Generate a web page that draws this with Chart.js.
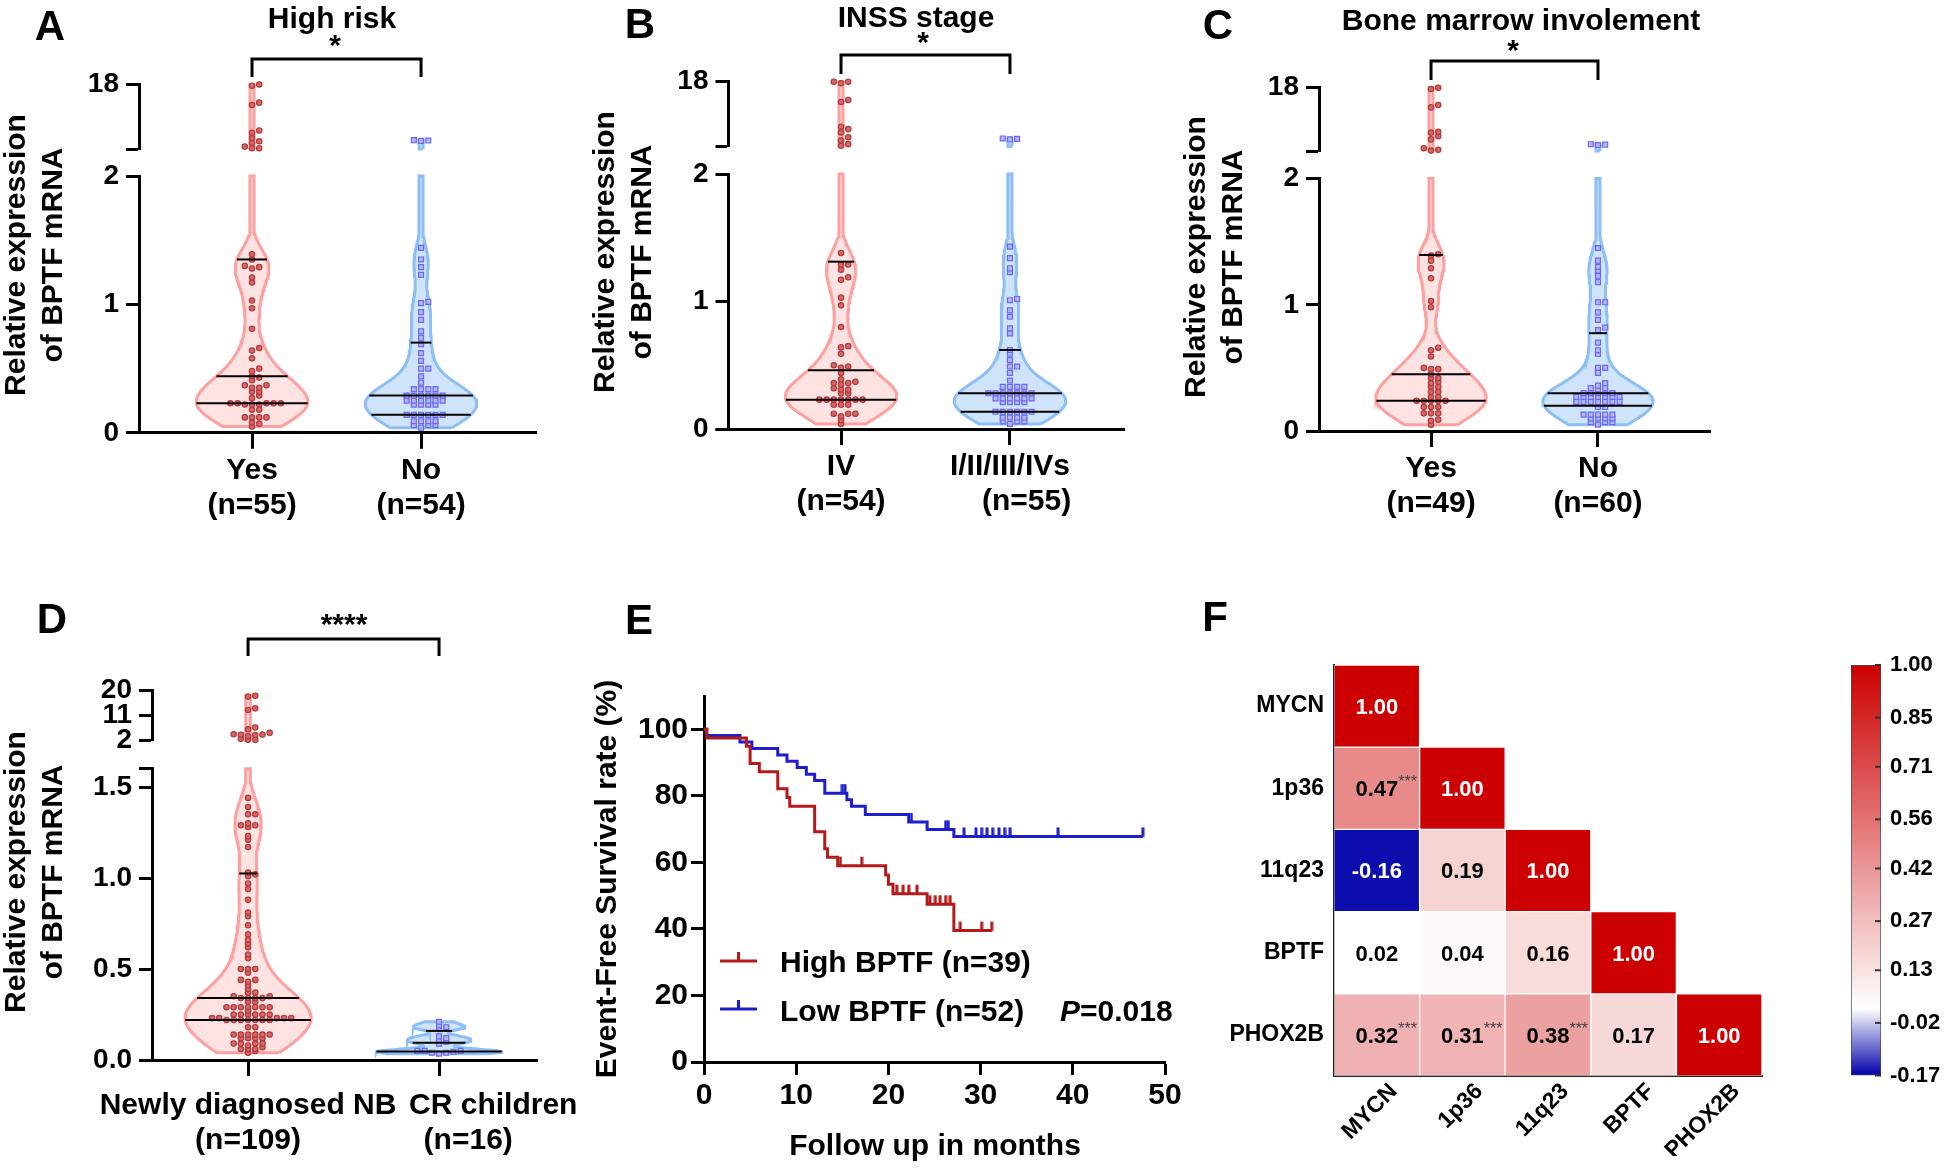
<!DOCTYPE html>
<html>
<head>
<meta charset="utf-8">
<script src="https://cdn.jsdelivr.net/npm/chart.js@4.4.0/dist/chart.umd.min.js"></script>
<style>
  html, body { margin: 0; padding: 0; background: #fff; }
  #page { position: relative; width: 1944px; height: 1172px; overflow: hidden; background: #fff; }
  canvas { position: absolute; }
</style>
</head>
<body>
<div id="page">
  <canvas id="panelA" width="590" height="590" style="left:0px;top:0px"></canvas>
  <canvas id="panelB" width="590" height="590" style="left:590px;top:0px"></canvas>
  <canvas id="panelC" width="590" height="590" style="left:1180px;top:0px"></canvas>
  <canvas id="panelD" width="650" height="592" style="left:0px;top:580px"></canvas>
  <canvas id="panelE" width="610" height="592" style="left:580px;top:580px"></canvas>
  <canvas id="panelF" width="600" height="592" style="left:1200px;top:580px"></canvas>
  <canvas id="panelFbar" width="144" height="592" style="left:1800px;top:580px"></canvas>
</div>
<script>
// ---------- data ----------
// A: high risk
const riskYes = [18, 17.7, 13.5, 12.9, 6.6, 6.0, 4.7, 3.9, 3.5, 2.6, 2.2, 2.2,
  1.39, 1.35, 1.30, 1.29, 1.28, 1.21, 1.17, 1.03, 0.97, 0.81, 0.66, 0.64, 0.58,
  0.50, 0.48, 0.44, 0.43, 0.41, 0.37, 0.37, 0.35, 0.35, 0.32, 0.32, 0.29, 0.27,
  0.23, 0.23, 0.23, 0.23, 0.23, 0.22, 0.22, 0.22, 0.18, 0.18,
  0.12, 0.12, 0.12, 0.12, 0.08, 0.07, 0.05];
const riskNo = [4.2, 4.1, 4.0,
  1.44, 1.35, 1.29, 1.23, 1.02, 1.01, 0.94, 0.88, 0.79, 0.74, 0.69, 0.62, 0.56,
  0.50, 0.50, 0.44, 0.39, 0.34, 0.34, 0.34, 0.34,
  0.29, 0.29, 0.29, 0.29, 0.29, 0.29, 0.25, 0.25, 0.25, 0.25, 0.25, 0.25,
  0.22, 0.22, 0.22, 0.22, 0.14, 0.14, 0.14, 0.14, 0.14, 0.14,
  0.09, 0.09, 0.09, 0.09, 0.06, 0.06, 0.06, 0.04];
// B: INSS stage
const stageIV = [18, 18, 17.6, 13.5, 13.0, 6.9, 6.3, 5.5, 4.3, 3.5, 2.6, 2.2,
  1.38, 1.29, 1.29, 1.25, 1.19, 1.17, 1.03, 0.97, 0.80, 0.65, 0.64, 0.59,
  0.50, 0.49, 0.48, 0.44, 0.39, 0.37, 0.36, 0.36, 0.35, 0.32, 0.31, 0.31, 0.28, 0.28,
  0.23, 0.23, 0.23, 0.23, 0.23, 0.23, 0.23, 0.19, 0.19, 0.19,
  0.12, 0.12, 0.12, 0.10, 0.07, 0.04];
const stageOther = [4.0, 3.9, 3.8,
  1.43, 1.34, 1.26, 1.23, 1.02, 1.01, 0.93, 0.88, 0.79, 0.75, 0.62, 0.59, 0.54,
  0.49, 0.49, 0.44, 0.38, 0.33, 0.33, 0.33, 0.33,
  0.28, 0.28, 0.28, 0.28, 0.28, 0.28, 0.28, 0.24, 0.24, 0.24, 0.24, 0.24, 0.24,
  0.21, 0.21, 0.21, 0.21, 0.135, 0.135, 0.135, 0.135, 0.135, 0.135,
  0.09, 0.09, 0.09, 0.09, 0.06, 0.06, 0.06, 0.04];
// C: bone marrow involvement
const marrowYes = [17.8, 17.5, 13.5, 12.9, 6.8, 6.6, 5.7, 4.9, 2.7, 2.3, 2.1,
  1.40, 1.39, 1.35, 1.29, 1.21, 1.03, 0.98, 0.66, 0.64, 0.59, 0.50, 0.49, 0.49,
  0.45, 0.42, 0.42, 0.39, 0.38, 0.35, 0.35, 0.31, 0.31, 0.27, 0.27,
  0.24, 0.24, 0.24, 0.24, 0.24, 0.19, 0.19, 0.19, 0.14, 0.14, 0.14, 0.09, 0.08, 0.05];
const marrowNo = [3.7, 3.6, 3.5,
  1.45, 1.35, 1.30, 1.27, 1.23, 1.18, 1.02, 1.02, 0.94, 0.88, 0.82, 0.80,
  0.70, 0.64, 0.61, 0.50, 0.50, 0.46, 0.38, 0.36, 0.34, 0.34, 0.33,
  0.30, 0.30, 0.30, 0.30, 0.30, 0.27, 0.27, 0.27, 0.27, 0.27, 0.27, 0.27,
  0.23, 0.23, 0.23, 0.23, 0.23, 0.23, 0.23, 0.19, 0.19,
  0.13, 0.13, 0.13, 0.13, 0.13, 0.10, 0.10, 0.10, 0.10, 0.07, 0.07, 0.07, 0.05];
// D: newly diagnosed = all high-risk cases, CR children
const newlyNB = riskYes.concat(riskNo);
const crChildren = [0.21, 0.19, 0.18, 0.17, 0.13, 0.12, 0.11, 0.10, 0.09,
  0.05, 0.05, 0.05, 0.045, 0.04, 0.04, 0.035];

// category and tick labels
const riskCats = [['Yes', '(n=55)'], ['No', '(n=54)']];
const stageCats = [['IV', '(n=54)'], ['I/II/III/IVs', '    (n=55)']];
const marrowCats = [['Yes', '(n=49)'], ['No', '(n=60)']];
const cohortCats = [['Newly diagnosed NB', '(n=109)'], ['             CR children', '       (n=16)']];
const lowTicks = [0, 1, 2], lowTickLabels = ['0', '1', '2'];
const highTicks = [2, 18], highTickLabels = ['', '18'];
const dLowTicks = [0, 0.5, 1, 1.5, 1.6], dLowTickLabels = ['0.0', '0.5', '1.0', '1.5', ''];
const dHighTicks = [2, 11, 20], dHighTickLabels = ['2', '11', '20'];

// E: Kaplan-Meier, event times / survival (%) / censored times (months)
const highTimes = [0, 0.3, 4.6, 5.0, 6.0, 8.0, 9.0, 9.3, 12.0, 13.1, 13.4, 14.5, 19.7, 20.0, 20.5, 24.2, 27.1];
const highSurv = [100, 97.4, 94.9, 89.7, 87.2, 82.1, 79.5, 76.9, 69.2, 64.1, 61.5, 59.0, 56.2, 53.4, 50.6, 47.4, 39.5];
const highCensor = [14.8, 17.1, 20.9, 21.6, 22.2, 23.1, 24.5, 25.1, 25.6, 26.2, 26.7, 27.8, 30.1, 31.2];
const lowTimes = [0, 0.3, 3.9, 5.2, 8.0, 9.0, 10.1, 11.1, 12.0, 13.1, 15.5, 16.0, 17.5, 22.2, 24.2, 27.1];
const lowSurv = [100, 98.1, 96.2, 94.2, 92.3, 90.4, 88.5, 86.5, 84.6, 80.8, 78.8, 76.9, 74.4, 72.1, 69.9, 67.8];
const lowCensor = [15.0, 15.3, 22.5, 26.2, 26.5, 28.2, 29.5, 30.1, 30.7, 31.3, 32.0, 32.6, 33.2, 38.4, 47.6];
const kmLabels = ['High BPTF (n=39)', 'Low BPTF (n=52)'];
const kmXTicks = [0, 10, 20, 30, 40, 50];
const kmYTicks = [0, 20, 40, 60, 80, 100];

// F: correlation matrix (lower triangle)
const genes = ['MYCN', '1p36', '11q23', 'BPTF', 'PHOX2B'];
const corrRows = [[1.00], [0.47, 1.00], [-0.16, 0.19, 1.00], [0.02, 0.04, 0.16, 1.00], [0.32, 0.31, 0.38, 0.17, 1.00]];
const corrStars = [[''], ['***', ''], ['', '', ''], ['', '', '', ''], ['***', '***', '***', '', '']];
const cbTicks = [1.00, 0.85, 0.71, 0.56, 0.42, 0.27, 0.13, -0.02, -0.17];

// ---------- setup ----------
const FAMILY = "'Liberation Sans', Arial, sans-serif";
Chart.defaults.font.family = FAMILY;
Chart.defaults.font.weight = 'bold';
Chart.defaults.font.size = 28;
Chart.defaults.color = '#000';
Chart.defaults.animation = false;
Chart.defaults.events = [];
Chart.defaults.plugins.legend.display = false;
Chart.defaults.plugins.tooltip.enabled = false;

const PINK = {line: '#ffa0a0', fill: 'rgba(255,190,190,0.45)', dot: '#d46868', edge: '#b23a3a', shape: 'circle', r: 2.7};
const SKY = {line: '#8dbff4', fill: 'rgba(140,190,245,0.42)', dot: '#b4b4fa', edge: '#6a6aee', shape: 'rect', r: 3.5};
const KM_RED = '#b41a1a', KM_BLUE = '#1e1ecd';

function font(size, italic, weight) { return (italic ? 'italic ' : '') + (weight || 'bold') + ' ' + size + 'px ' + FAMILY; }

function drawText(c, t) {
  const size = t.size || 30;
  c.save();
  c.fillStyle = t.color || '#000';
  c.textBaseline = 'alphabetic';
  c.translate(t.x, t.y);
  if (t.rot) c.rotate(t.rot);
  const dy = size * (t.star ? 0.37 : 0.358);
  if (t.parts) {
    c.textAlign = 'left';
    let x = 0;
    t.parts.forEach(p => { c.font = font(size, p.italic); c.fillText(p.t, x, dy); x += c.measureText(p.t).width; });
  } else {
    c.font = font(size);
    c.textAlign = t.align || 'center';
    c.fillText(t.t, 0, dy);
  }
  c.restore();
}

// texts, brackets and small axis bits, given in page coordinates
function decor(cfg) {
  return {
    id: 'decor',
    afterDraw(chart) {
      const c = chart.ctx, area = chart.chartArea;
      c.save();
      c.strokeStyle = '#000';
      c.lineWidth = 3;
      if (cfg.overhang) {
        const y = Math.round(area.bottom - 1.5) + 1.5;
        c.beginPath(); c.moveTo(area.left - cfg.overhang, y); c.lineTo(area.left + 1, y); c.stroke();
      }
      c.translate(-cfg.ox, -cfg.oy);
      (cfg.brackets || []).forEach(b => {
        const xs = chart.scales.x;
        const x1 = xs.getPixelForValue(b.a) + cfg.ox, x2 = xs.getPixelForValue(b.b) + cfg.ox;
        c.beginPath(); c.moveTo(x1, b.leg); c.lineTo(x1, b.y); c.lineTo(x2, b.y); c.lineTo(x2, b.leg);
        c.strokeStyle = '#000'; c.lineWidth = 3; c.stroke();
      });
      (cfg.lines || []).forEach(l => {
        c.beginPath(); c.moveTo(l.x1, l.y1); c.lineTo(l.x2, l.y2);
        c.strokeStyle = l.color; c.lineWidth = l.w || 3; c.stroke();
      });
      (cfg.texts || []).forEach(t => drawText(c, t));
      c.restore();
    }
  };
}

// beeswarm: spread points that share a row
Chart.register({
  id: 'swarm',
  afterDatasetsUpdate(chart) {
    chart.data.datasets.forEach((ds, i) => {
      if (!ds.swarm) return;
      const pts = chart.getDatasetMeta(i).data.slice().sort((a, b) => b.y - a.y);
      let row = [], y0 = null;
      const flush = () => {
        row.forEach((p, k) => { p.x += Math.ceil(k / 2) * (k % 2 ? 1 : -1) * ds.swarm; });
        row = [];
      };
      pts.forEach(p => {
        if (y0 === null || Math.abs(p.y - y0) > 3.5) { flush(); y0 = p.y; }
        row.push(p);
      });
      flush();
    });
  }
});

function density(s, h, v) {
  let d = 0;
  for (const x of s) { const u = (v - x) / h; d += Math.exp(-0.5 * u * u); }
  return d;
}
function percentile(s, p) {
  const n = s.length, pos = p * (n + 1);
  if (pos <= 1) return s[0];
  if (pos >= n) return s[n - 1];
  const k = Math.floor(pos), f = pos - k;
  return s[k - 1] + f * (s[k] - s[k - 1]);
}
function outline(i, a, b, w) {
  const pts = [], N = 120;
  for (let k = 0; k <= N; k++) { const v = a + (b - a) * k / N; pts.push({x: i + w(v), y: v}); }
  for (let k = N; k >= 0; k--) { const v = a + (b - a) * k / N; pts.push({x: i - w(v), y: v}); }
  pts.push(pts[0]);
  return pts;
}

function yAxis(o, ax, weight) {
  return {
    type: 'linear', position: 'left', stack: 'v', stackWeight: weight,
    min: ax.min, max: ax.max,
    afterBuildTicks: s => { s.ticks = ax.ticks.map(v => ({value: v})); },
    ticks: {callback: (v, k) => ax.labels[k], font: {size: 28}, padding: 7, autoSkip: false},
    grid: {drawOnChartArea: false, tickLength: 13, tickWidth: 3, tickColor: '#000'},
    border: {width: 3, color: '#000'},
    afterFit: s => { s.width = o.yW; }
  };
}

function violinPanel(id, o) {
  const lines = [], dotsLo = [], dotsHi = [], shapes = [];
  const MIN_W = 0.012;
  o.groups.forEach((g, i) => {
    const st = g.style;
    const s = g.vals.slice().sort((a, b) => a - b);
    const top = s[s.length - 1];
    const lo0 = s[0], lo1 = Math.min(top, o.lo.max);
    let peak = 0;
    for (let k = 0; k <= 200; k++) peak = Math.max(peak, density(s, g.bw, lo0 + (lo1 - lo0) * k / 200));
    const w = v => Math.max(MIN_W, 0.33 * density(s, g.bw, v) / peak);
    const shapeStyle = {type: 'line', fill: 'shape', borderColor: st.line, backgroundColor: st.fill,
      borderWidth: 3, pointRadius: 0, clip: false};
    shapes.push(Object.assign({yAxisID: 'yLo', data: outline(i, lo0, lo1, w)}, shapeStyle));
    // above the break the violin is only a thin stem
    if (top > o.lo.max) shapes.push(Object.assign({yAxisID: 'yHi', data: outline(i, o.hi.min, top, () => MIN_W)}, shapeStyle));
    [0.25, 0.5, 0.75].forEach(p => {
      const q = percentile(s, p);
      if (q <= o.lo.max) lines.push({type: 'line', yAxisID: 'yLo', data: [{x: i - w(q), y: q}, {x: i + w(q), y: q}],
        borderColor: '#000', borderWidth: 2, pointRadius: 0, clip: false});
    });
    const dotStyle = {type: 'scatter', swarm: 7.2, pointStyle: st.shape, pointRadius: st.r,
      backgroundColor: st.dot, borderColor: st.edge, borderWidth: 1.2, clip: false};
    dotsLo.push(Object.assign({yAxisID: 'yLo', data: s.filter(v => v <= o.lo.max).map(v => ({x: i, y: v}))}, dotStyle));
    if (top > o.lo.max) dotsHi.push(Object.assign({yAxisID: 'yHi', data: s.filter(v => v > o.lo.max).map(v => ({x: i, y: v}))}, dotStyle));
  });
  return new Chart(document.getElementById(id), {
    type: 'scatter',
    data: {datasets: lines.concat(dotsLo, dotsHi, shapes)},
    options: {
      responsive: false,
      layout: {padding: o.pad},
      scales: {
        x: {
          type: 'linear', min: o.xMin, max: o.xMax,
          afterBuildTicks: s => { s.ticks = o.cats.map((c, i) => ({value: i})); },
          ticks: {callback: v => o.cats[v], font: {size: 30, lineHeight: 1.17}, padding: o.xPad, autoSkip: false, maxRotation: 0},
          grid: {drawOnChartArea: false, tickLength: 16, tickWidth: 3, tickColor: '#000'},
          border: {width: 3, color: '#000'},
          afterFit: s => { s.height = o.xH; }
        },
        yLo: yAxis(o, o.lo, o.weights[2]),
        yGap: {type: 'linear', position: 'left', stack: 'v', stackWeight: o.weights[1],
          grid: {display: false}, border: {display: false}, ticks: {display: false},
          afterFit: s => { s.width = o.yW; }},
        yHi: yAxis(o, o.hi, o.weights[0])
      }
    },
    plugins: [decor(o.decor)]
  });
}

function panelTexts(letter, lx, ly, title, tx, ty, starText, sx, sy, yl1, yl2, ylY) {
  const t = [
    {t: letter, x: lx, y: ly, size: 42},
    {t: starText, x: sx, y: sy, size: 30, star: true},
    {t: 'Relative expression', x: yl1, y: ylY, rot: -Math.PI / 2},
    {t: 'of BPTF mRNA', x: yl2, y: ylY, rot: -Math.PI / 2}
  ];
  if (title) t.push({t: title, x: tx, y: ty});
  return t;
}

// ---------- A, B, C ----------
violinPanel('panelA', {
  groups: [{vals: riskYes, style: PINK, bw: 0.12}, {vals: riskNo, style: SKY, bw: 0.11}],
  cats: riskCats, xMin: -0.6686, xMax: 1.680, xH: 120, xPad: 4, yW: 139,
  pad: {left: 0, top: 84.5, right: 54, bottom: 37.2},
  weights: [64.5, 27, 256.8],
  lo: {min: 0, max: 2, ticks: lowTicks, labels: lowTickLabels},
  hi: {min: 2, max: 18, ticks: highTicks, labels: highTickLabels},
  decor: {ox: 0, oy: 0, overhang: 13,
    brackets: [{a: 0, b: 1, y: 59, leg: 77}],
    texts: panelTexts('A', 50, 25, 'High risk', 332, 17, '*', 335, 44, 14, 51, 255)}
});
violinPanel('panelB', {
  groups: [{vals: stageIV, style: PINK, bw: 0.12}, {vals: stageOther, style: SKY, bw: 0.11}],
  cats: stageCats, xMin: -0.666, xMax: 1.675, xH: 120, xPad: 4, yW: 138.5,
  pad: {left: 0, top: 81.7, right: 56, bottom: 41},
  weights: [64.9, 27.4, 255],
  lo: {min: 0, max: 2, ticks: lowTicks, labels: lowTickLabels},
  hi: {min: 2, max: 18, ticks: highTicks, labels: highTickLabels},
  decor: {ox: 590, oy: 0, overhang: 13,
    brackets: [{a: 0, b: 1, y: 55, leg: 74}],
    texts: panelTexts('B', 640, 23, 'INSS stage', 916, 16, '*', 923, 41, 603.5, 640.5, 252)}
});
violinPanel('panelC', {
  groups: [{vals: marrowYes, style: PINK, bw: 0.12}, {vals: marrowNo, style: SKY, bw: 0.11}],
  cats: marrowCats, xMin: -0.671, xMax: 1.671, xH: 120, xPad: 4, yW: 139,
  pad: {left: 0, top: 87, right: 60, bottom: 39},
  weights: [64, 27.6, 252.4],
  lo: {min: 0, max: 2, ticks: lowTicks, labels: lowTickLabels},
  hi: {min: 2, max: 18, ticks: highTicks, labels: highTickLabels},
  decor: {ox: 1180, oy: 0, overhang: 13,
    brackets: [{a: 0, b: 1, y: 61, leg: 80}],
    texts: panelTexts('C', 1218, 24, 'Bone marrow involement', 1521, 19, '*', 1513, 49, 1194, 1231, 257)}
});

// ---------- D ----------
violinPanel('panelD', {
  groups: [{vals: newlyNB, style: PINK, bw: 0.1}, {vals: crChildren, style: SKY, bw: 0.014}],
  cats: cohortCats, xMin: -0.503, xMax: 1.513, xH: 100, xPad: 12, yW: 152,
  pad: {left: 0, top: 110.2, right: 113, bottom: 12},
  weights: [50.2, 28.4, 291.2],
  lo: {min: 0, max: 1.6, ticks: dLowTicks, labels: dLowTickLabels},
  hi: {min: 2, max: 20, ticks: dHighTicks, labels: dHighTickLabels},
  decor: {ox: 0, oy: 580, overhang: 10,
    brackets: [{a: 0, b: 1, y: 639, leg: 656}],
    texts: panelTexts('D', 52, 618, null, 0, 0, '****', 344, 623, 14, 51, 872)}
});

// ---------- E ----------
function survAt(times, surv, t) {
  let s = surv[0];
  times.forEach((x, i) => { if (x <= t) s = surv[i]; });
  return s;
}
function kmSteps(times, surv, end) {
  return times.map((t, i) => ({x: t, y: surv[i]})).concat([{x: end, y: surv[surv.length - 1]}]);
}
function tickMark(color) {
  const cv = document.createElement('canvas');
  cv.width = 4; cv.height = 20;
  const c = cv.getContext('2d');
  c.fillStyle = color;
  c.fillRect(0.5, 1, 3, 9.5);
  return cv;
}
const censorStyle = color => ({type: 'scatter', pointStyle: tickMark(color), pointRadius: 6, clip: false});

new Chart(document.getElementById('panelE'), {
  type: 'line',
  data: {datasets: [
    Object.assign({data: highCensor.map(t => ({x: t, y: survAt(highTimes, highSurv, t)}))}, censorStyle(KM_RED)),
    Object.assign({data: lowCensor.map(t => ({x: t, y: survAt(lowTimes, lowSurv, t)}))}, censorStyle(KM_BLUE)),
    {label: kmLabels[0], data: kmSteps(highTimes, highSurv, highCensor[highCensor.length - 1]), stepped: true,
      borderColor: KM_RED, borderWidth: 3, pointRadius: 0, clip: false},
    {label: kmLabels[1], data: kmSteps(lowTimes, lowSurv, lowCensor[lowCensor.length - 1]), stepped: true,
      borderColor: KM_BLUE, borderWidth: 3, pointRadius: 0, clip: false}
  ]},
  options: {
    responsive: false,
    layout: {padding: {left: 0, top: 116, right: 25, bottom: 50}},
    scales: {
      x: {type: 'linear', min: 0, max: 50,
        afterBuildTicks: s => { s.ticks = kmXTicks.map(v => ({value: v})); },
        ticks: {font: {size: 30}, padding: 3},
        grid: {drawOnChartArea: false, tickLength: 13, tickWidth: 3, tickColor: '#000'},
        border: {width: 3, color: '#000'},
        afterFit: s => { s.height = 60; }},
      y: {type: 'linear', min: 0, max: 110,
        afterBuildTicks: s => { s.ticks = kmYTicks.map(v => ({value: v})); },
        ticks: {font: {size: 30}, padding: 3},
        grid: {drawOnChartArea: false, tickLength: 13, tickWidth: 3, tickColor: '#000'},
        border: {width: 3, color: '#000'},
        afterFit: s => { s.width = 124; }}
    }
  },
  plugins: [decor({ox: 580, oy: 580, overhang: 13,
    lines: [
      {x1: 720, y1: 961, x2: 757, y2: 961, color: KM_RED},
      {x1: 738.5, y1: 961, x2: 738.5, y2: 952, color: KM_RED},
      {x1: 720, y1: 1009, x2: 757, y2: 1009, color: KM_BLUE},
      {x1: 738.5, y1: 1009, x2: 738.5, y2: 1000, color: KM_BLUE}
    ],
    texts: [
      {t: 'E', x: 639, y: 619, size: 42},
      {t: 'Event-Free Survival rate (%)', x: 605, y: 879, rot: -Math.PI / 2},
      {t: 'Follow up in months', x: 935, y: 1144},
      {t: kmLabels[0], x: 780, y: 961, align: 'left'},
      {t: kmLabels[1], x: 780, y: 1010, align: 'left'},
      {x: 1060, y: 1010, parts: [{t: 'P', italic: true}, {t: '=0.018'}]}
    ]})]
});

// ---------- F ----------
const cbMin = -0.17, cbMid = 0.02, cbMax = 1.0;
const CB_LOW = [0, 0, 170], CB_MID = [255, 255, 255], CB_HIGH = [204, 0, 0];
function corrColor(v) {
  let b, f;
  if (v >= cbMid) { b = CB_HIGH; f = (v - cbMid) / (cbMax - cbMid); }
  else { b = CB_LOW; f = (cbMid - v) / (cbMid - cbMin); }
  f = Math.max(0, Math.min(1, f));
  return 'rgb(' + CB_MID.map((x, i) => Math.round(x + (b[i] - x) * f)).join(',') + ')';
}

const cellText = {
  id: 'cellText',
  afterDatasetsDraw(chart) {
    const c = chart.ctx;
    c.save();
    c.textBaseline = 'alphabetic';
    corrRows.forEach((row, r) => {
      const els = chart.getDatasetMeta(r).data;
      row.forEach((v, k) => {
        const el = els[k], cy = (el.y + el.base) / 2, txt = v.toFixed(2);
        c.font = font(22);
        c.textAlign = 'center';
        c.fillStyle = (v > 0.8 || v < -0.1) ? '#fff' : '#000';
        c.fillText(txt, el.x, cy + 0.358 * 22);
        if (corrStars[r][k]) {
          const w = c.measureText(txt).width;
          c.font = font(16, false, 'normal');
          c.textAlign = 'left';
          c.fillStyle = '#444';
          c.fillText(corrStars[r][k], el.x + w / 2, cy - 1);
        }
      });
    });
    c.restore();
  }
};

new Chart(document.getElementById('panelF'), {
  type: 'bar',
  data: {
    labels: genes,
    datasets: corrRows.map((row, r) => ({
      data: genes.map((g, k) => k < row.length ? [r, r + 1] : null),
      backgroundColor: genes.map((g, k) => k < row.length ? corrColor(row[k]) : 'rgba(0,0,0,0)'),
      borderColor: 'rgba(255,255,255,0.55)', borderWidth: 1, borderSkipped: false,
      barPercentage: 1, categoryPercentage: 1, grouped: false
    }))
  },
  options: {
    responsive: false,
    layout: {padding: {left: 0, top: 85, right: 38, bottom: 16}},
    scales: {
      x: {grid: {display: false, drawTicks: false}, border: {display: true, color: '#222', width: 2},
        ticks: {font: {size: 23}, minRotation: 45, maxRotation: 45, padding: 2, labelOffset: 17},
        afterFit: s => { s.height = 80; }},
      y: {type: 'linear', reverse: true, min: 0, max: 5,
        grid: {display: false, drawTicks: false}, border: {display: true, color: '#222', width: 2},
        afterBuildTicks: s => { s.ticks = genes.map((g, i) => ({value: i + 0.5})); },
        ticks: {font: {size: 23}, padding: 10, callback: v => genes[Math.floor(v)]},
        afterFit: s => { s.width = 134; }}
    }
  },
  plugins: [cellText, decor({ox: 1200, oy: 580, texts: [{t: 'F', x: 1215, y: 616, size: 42}]})]
});

function cbGradient(chart) {
  if (!chart.chartArea) return null;
  const y = chart.scales.y;
  const g = chart.ctx.createLinearGradient(0, y.getPixelForValue(cbMin), 0, y.getPixelForValue(cbMax));
  [cbMin, cbMid, cbMax].forEach(v => g.addColorStop((v - cbMin) / (cbMax - cbMin), corrColor(v)));
  return g;
}
new Chart(document.getElementById('panelFbar'), {
  type: 'bar',
  data: {labels: [''], datasets: [{
    data: [[cbMin, cbMax]], backgroundColor: ctx => cbGradient(ctx.chart),
    borderColor: '#3b4a55', borderWidth: 1, borderSkipped: false, barPercentage: 1, categoryPercentage: 1
  }]},
  options: {
    responsive: false,
    layout: {padding: {left: 51, top: 85, right: 3, bottom: 96.5}},
    scales: {
      x: {display: false},
      y: {position: 'right', min: cbMin, max: cbMax,
        grid: {display: false, drawTicks: false}, border: {display: false},
        afterBuildTicks: s => { s.ticks = cbTicks.map(v => ({value: v})); },
        ticks: {font: {size: 22}, padding: 9, callback: v => v.toFixed(2)},
        afterFit: s => { s.width = 60; }}
    }
  },
  plugins: [{
    id: 'cbMarks',
    afterDraw(chart) {
      const c = chart.ctx, y = chart.scales.y, right = chart.chartArea.right;
      c.save(); c.strokeStyle = '#333'; c.lineWidth = 2;
      y.ticks.forEach(t => {
        const py = y.getPixelForValue(t.value);
        c.beginPath(); c.moveTo(right - 6, py); c.lineTo(right, py); c.stroke();
      });
      c.restore();
    }
  }]
});
</script>
</body>
</html>
